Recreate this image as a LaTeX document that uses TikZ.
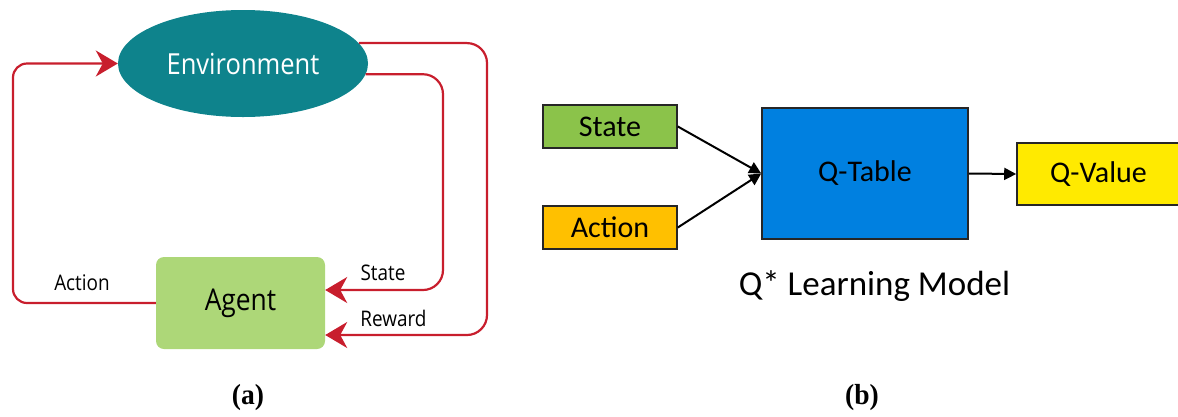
\documentclass[tikz,border=0pt]{standalone}
\usepackage{fontspec}
\setmainfont{Open Sans}[FakeStretch=0.88]
\newfontfamily\calib{Carlito}
\newfontfamily\timesf{Liberation Serif}[FakeStretch=0.95]
\usetikzlibrary{shapes.geometric,arrows.meta,calc}
\definecolor{envteal}{RGB}{14,131,140}
\definecolor{agentgreen}{RGB}{173,215,120}
\definecolor{loopred}{RGB}{200,30,45}
\definecolor{stategreen}{RGB}{139,195,74}
\definecolor{actorange}{RGB}{255,192,0}
\definecolor{qblue}{RGB}{0,128,224}
\definecolor{qyellow}{RGB}{255,234,0}
\tikzset{
  redloop/.style={draw=loopred,line width=2.2pt,
    -{Stealth[length=22pt,width=26pt,inset=7pt]}},
  redlbl/.style={font=\fontsize{21.5}{25}\selectfont,inner sep=0pt},
  qbox/.style={draw=black!85,line width=1.6pt,inner sep=0pt,
    font=\calib\fontsize{30}{34}\selectfont},
  blkarrow/.style={draw=black,line width=2pt,-{Triangle[length=12pt,width=12pt]}},
  sublbl/.style={font=\timesf\bfseries\fontsize{29}{33}\selectfont,inner sep=0pt}
}
\begin{document}
\begin{tikzpicture}[x=1pt,y=-1pt]
\useasboundingbox (0,0) rectangle (1178,416);
% ---------- (a) ----------
\node[ellipse,fill=envteal,minimum width=250pt,minimum height=107pt,inner sep=0pt,
  text=white,font=\fontsize{29}{34}\selectfont] (env) at (243,63.5) {Environment};
\node[rectangle,rounded corners=8pt,fill=agentgreen,minimum width=169pt,
  minimum height=92pt,inner sep=0pt,font=\fontsize{30}{34}\selectfont] (agent) at (240.5,303) {Agent};
\coordinate (stin) at ($(agent.east)+(0,-13)$);
\coordinate (rwin) at ($(agent.east)+(0,32)$);
\draw[redloop,rounded corners=14pt] (agent.west) -| (13,63.5) -- (env.west);
\draw[redloop,rounded corners=20pt] (env.-5.4) -| (443,290) -- (stin);
\draw[redloop,rounded corners=20pt] (env.10.6) -| (487,335) -- (rwin);
\node[redlbl] (lact) at (82,283) {Action};
\node[redlbl] (lst) at (383,273) {State};
\node[redlbl] (lrw) at (393.5,318) {Reward};
\node[sublbl] (la) at (248,398) {(a)};
% ---------- (b) ----------
\node[qbox,fill=stategreen,minimum width=134pt,minimum height=43pt] (st) at (610,126.5) {State};
\node[qbox,fill=actorange,minimum width=134pt,minimum height=43pt] (ac) at (610,227.5) {Action};
\node[qbox,fill=qblue,minimum width=206pt,minimum height=131pt] (qt) at (865,173.5) {Q-Table};
\node[qbox,fill=qyellow,minimum width=163pt,minimum height=62pt] (qv) at (1098.5,174) {Q-Value};
\draw[blkarrow] (st.east) -- (qt.west);
\draw[blkarrow] (ac.east) -- (qt.west);
\draw[blkarrow] (qt.east) -- (qv.west);
\node[font=\calib\fontsize{35}{40}\selectfont,inner sep=0pt] (title) at (874.5,286) {Q* Learning Model};
\node[sublbl] (lb) at (862,398) {(b)};
\end{tikzpicture}
\end{document}
